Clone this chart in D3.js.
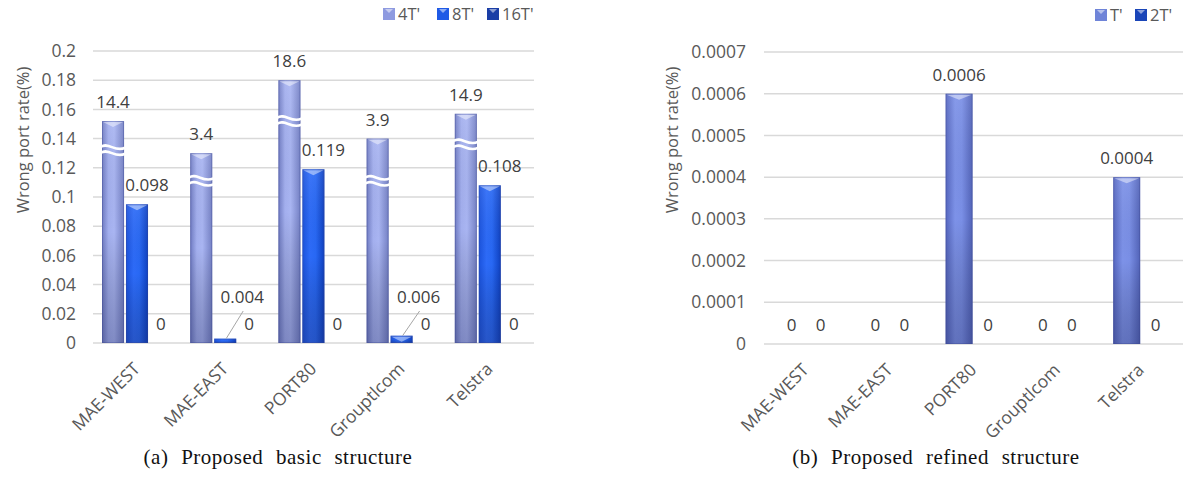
<!DOCTYPE html>
<html><head><meta charset="utf-8">
<script src="https://cdn.jsdelivr.net/npm/d3@7"></script>
<style>
html,body{margin:0;padding:0;background:#fff;}
svg{display:block;}
</style></head>
<body>
<svg id="chart" width="1184" height="478"></svg>
<script>
// ---------- data ----------
const categories = ["MAE-WEST","MAE-EAST","PORT80","Grouptlcom","Telstra"];

// (a) basic structure
const seriesA = ["4T'","8T'","16T'"];
const barA4 = [0.152, 0.130, 0.180, 0.140, 0.157];        // drawn (broken-axis) heights
const labelA4 = ["14.4","3.4","18.6","3.9","14.9"];
const breakA4 = [0.131, 0.110, 0.151, 0.110, 0.135];      // where the break mark sits
const barA8 = [0.095, 0.003, 0.119, 0.005, 0.108];
const labelA8 = ["0.098","0.004","0.119","0.006","0.108"];
const barA16 = [0, 0, 0, 0, 0];
const labelA16 = ["0","0","0","0","0"];
const ticksA = [0,0.02,0.04,0.06,0.08,0.1,0.12,0.14,0.16,0.18,0.2];
const tickLabelsA = ["0","0.02","0.04","0.06","0.08","0.1","0.12","0.14","0.16","0.18","0.2"];

// (b) refined structure
const seriesB = ["T'","2T'"];
const barBT = [0, 0, 0.0006, 0, 0.0004];
const labelBT = ["0","0","0.0006","0","0.0004"];
const barB2T = [0, 0, 0, 0, 0];
const labelB2T = ["0","0","0","0","0"];
const ticksB = [0,0.0001,0.0002,0.0003,0.0004,0.0005,0.0006,0.0007];
const tickLabelsB = ["0","0.0001","0.0002","0.0003","0.0004","0.0005","0.0006","0.0007"];

const yTitle = "Wrong port rate(%)";
const captionA = "(a) Proposed basic structure";
const captionB = "(b) Proposed refined structure";

// ---------- drawing ----------
const SANS = '"Open Sans","Noto Sans",sans-serif';
const SERIF = '"Liberation Serif","DejaVu Serif",serif';
const svg = d3.select("#chart");
const defs = svg.append("defs");

function hGrad(id, stops){
  const g = defs.append("linearGradient").attr("id", id).attr("x1","0").attr("x2","1").attr("y1","0").attr("y2","0");
  stops.forEach(s => g.append("stop").attr("offset", s[0]).attr("stop-color", s[1]));
}
function vGrad(id, stops){
  const g = defs.append("linearGradient").attr("id", id).attr("x1","0").attr("x2","0").attr("y1","0").attr("y2","1");
  stops.forEach(s => g.append("stop").attr("offset", s[0]).attr("stop-color", s[1][0]).attr("stop-opacity", s[1][1]));
}
hGrad("g4T", [[0,"#6f7bc2"],[0.3,"#a3afee"],[0.55,"#a9b5f2"],[1,"#7480c4"]]);
hGrad("g8T", [[0,"#1a52dc"],[0.35,"#2d6bf8"],[0.6,"#2868f4"],[1,"#0e40c0"]]);
hGrad("g16T",[[0,"#15328f"],[0.4,"#1f46b5"],[1,"#132d85"]]);
hGrad("gT",  [[0,"#5566bf"],[0.35,"#7d92e8"],[0.6,"#7a8fe6"],[1,"#5263b8"]]);
hGrad("g2T", [[0,"#1235a0"],[0.4,"#1c4cc4"],[1,"#10308f"]]);
vGrad("shade", [[0,["#ffffff",0.08]],[0.5,["#000000",0.0]],[1,["#1a2050",0.28]]]);

const colorFill = {"4T'":"url(#g4T)","8T'":"url(#g8T)","16T'":"url(#g16T)","T'":"url(#gT)","2T'":"url(#g2T)"};
const legendFill = {"4T'":"#8e9ae0","8T'":"#1f5ae6","16T'":"#1a3ea6","T'":"#6f84d8","2T'":"#1a45b8"};

function drawPanel(cfg){
  const g = svg.append("g");
  const x = d3.scaleBand().domain(categories).range([cfg.x0, cfg.x1]).padding(0);
  const xs = d3.scaleBand().domain(cfg.series).range(cfg.subRange).paddingInner(cfg.subPad);
  const y = d3.scaleLinear().domain(cfg.domain).range([cfg.yBottom, cfg.yTop]);

  // gridlines
  g.append("g").selectAll("line").data(cfg.ticks).join("line")
    .attr("x1", cfg.x0).attr("x2", cfg.x1)
    .attr("y1", d => y(d)).attr("y2", d => y(d))
    .attr("stroke", "#d9d9d9").attr("stroke-width", 1.5);

  // y tick labels via axis
  const ax = g.append("g").attr("transform", `translate(${cfg.tickX},0)`)
    .call(d3.axisLeft(y).tickValues(cfg.ticks).tickSize(0).tickPadding(0)
      .tickFormat((d,i) => cfg.tickLabels[i]));
  ax.select(".domain").remove();
  ax.selectAll("text").attr("font-size", 17.5).attr("fill", "#595959")
    .attr("font-family", SANS);

  // y title
  g.append("text").attr("transform", `translate(${cfg.titleX},${cfg.titleY}) rotate(-90)`)
    .attr("text-anchor","middle").attr("dy","0.35em").attr("font-family", SANS)
    .attr("font-size", 16.5).attr("fill", "#595959").text(yTitle);

  // bars
  cfg.series.forEach((s, si) => {
    const vals = cfg.values[si];
    const bars = g.append("g");
    categories.forEach((c, ci) => {
      const v = vals[ci];
      if (v <= 0) return;
      const bx = x(c) + xs(s), bw = xs.bandwidth();
      const top = y(v), h = y(0) - top;
      bars.append("rect").attr("x", bx).attr("y", top).attr("width", bw).attr("height", h)
        .attr("fill", colorFill[s]);
      bars.append("rect").attr("x", bx).attr("y", top).attr("width", bw).attr("height", h)
        .attr("fill", "url(#shade)");
      bars.append("rect").attr("x", bx+0.5).attr("y", top+0.5).attr("width", bw-1).attr("height", Math.max(0,h-1))
        .attr("fill", "none").attr("stroke", "#3a4690").attr("stroke-opacity", 0.35).attr("stroke-width", 1);
      if (h > 6) {
        bars.append("polygon")
          .attr("points", `${bx+1},${top+1} ${bx+bw-1},${top+1} ${bx+bw/2},${top+6}`)
          .attr("fill", "#ffffff").attr("fill-opacity", 0.45);
      }
      if (cfg.breaks && cfg.breaks[si]) {
        const yb = y(cfg.breaks[si][ci]);
        [ -3, 3 ].forEach(off => {
          const yy = yb + off;
          bars.append("path")
            .attr("d", `M${bx-1},${yy-2} C${bx+bw*0.3},${yy-7} ${bx+bw*0.6},${yy+4} ${bx+bw+1},${yy-1}`)
            .attr("fill","none").attr("stroke","#ffffff").attr("stroke-width",2.6);
        });
      }
    });
  });

  // data labels
  cfg.series.forEach((s, si) => {
    const vals = cfg.values[si], labs = cfg.labels[si];
    categories.forEach((c, ci) => {
      const v = vals[ci];
      const bcx = x(c) + xs(s) + xs.bandwidth()/2;
      const top = y(v);
      const small = cfg.leaderBelow && v > 0 && v < cfg.leaderBelow;
      let lx = bcx + (cfg.labelDx[si] || 0), ly = top - 13;
      if (small) {
        lx = bcx + 17; ly = y(0) - 40;
        g.append("line").attr("x1", lx + 1).attr("y1", ly + 8).attr("x2", bcx + 1).attr("y2", top)
          .attr("stroke", "#a6a6a6").attr("stroke-width", 1);
      }
      g.append("text").attr("x", lx).attr("y", ly).attr("text-anchor","middle").attr("font-family", SANS)
        .attr("font-size", 17).attr("fill", "#404040").text(labs[ci]);
    });
  });

  // x labels
  g.append("g").selectAll("text").data(categories).join("text")
    .attr("transform", d => `translate(${x(d) + x.bandwidth()/2 + 4},${cfg.yBottom + 27}) rotate(-45)`)
    .attr("text-anchor","end").attr("font-family", SANS)
    .attr("font-size", 17.5).attr("fill", "#595959").text(d => d);

  // legend
  const lg = g.append("g");
  cfg.series.forEach((s, si) => {
    const lx = cfg.legendX[si];
    lg.append("rect").attr("x", lx).attr("y", cfg.legendY - 6).attr("width", 12).attr("height", 12)
      .attr("fill", legendFill[s]);
    lg.append("polygon").attr("points", `${lx+2},${cfg.legendY-5} ${lx+10},${cfg.legendY-5} ${lx+6},${cfg.legendY-1}`)
      .attr("fill","#ffffff").attr("fill-opacity",0.5);
    lg.append("text").attr("x", lx + 15).attr("y", cfg.legendY).attr("dy","0.35em").attr("font-family", SANS)
      .attr("font-size", 16.5).attr("fill", "#595959").text(s);
  });

  // caption
  g.append("text").attr("x", cfg.captionX).attr("y", 464).attr("text-anchor","middle")
    .style("font-family", SERIF)
    .attr("font-size", 21).attr("letter-spacing", 0.5).attr("word-spacing", 7)
    .attr("fill", "#111").text(cfg.caption);
}

drawPanel({
  x0: 93, x1: 534, yTop: 51, yBottom: 343,
  domain: [0, 0.2], ticks: ticksA, tickLabels: tickLabelsA, tickX: 76,
  series: seriesA, subRange: [9, 79], subPad: 0.08,
  values: [barA4, barA8, barA16], labels: [labelA4, labelA8, labelA16],
  breaks: [breakA4, null, null], labelDx: [0, 10, 0], leaderBelow: 0.01,
  titleX: 23, titleY: 140,
  legendX: [383, 437, 487], legendY: 14,
  caption: captionA, captionX: 278
});

drawPanel({
  x0: 764, x1: 1183, yTop: 52, yBottom: 344,
  domain: [0, 0.0007], ticks: ticksB, tickLabels: tickLabelsB, tickX: 746,
  series: seriesB, subRange: [14, 70], subPad: 0.07,
  values: [barBT, barB2T], labels: [labelBT, labelB2T],
  breaks: null, labelDx: [0, 0], leaderBelow: 0,
  titleX: 672, titleY: 140,
  legendX: [1095, 1135], legendY: 15,
  caption: captionB, captionX: 936
});
</script>
</body></html>
